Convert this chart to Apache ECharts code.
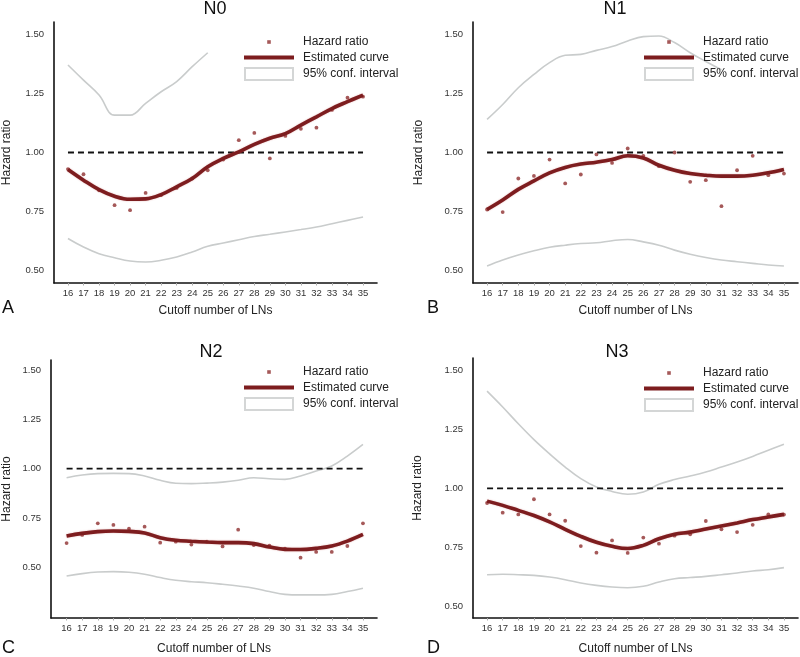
<!DOCTYPE html>
<html>
<head>
<meta charset="utf-8">
<script src="https://cdn.jsdelivr.net/npm/echarts@6/dist/echarts.min.js"></script>
<style>html,body{margin:0;padding:0;background:#fff;}#chart{width:800px;height:657px;}</style>
</head>
<body>
<div id="chart"></div>
<script>
// ---------- data ----------
const cutoffs = [16,17,18,19,20,21,22,23,24,25,26,27,28,29,30,31,32,33,34,35];
const yTicks = [0.50, 0.75, 1.00, 1.25, 1.50];
const refX = [16, 35];
const refY = 1.0;

// N0
const n0Hr    = [0.93,0.908,0.84,0.777,0.756,0.829,0.82,0.85,0.89,0.925,0.97,1.052,1.083,0.975,1.07,1.10,1.105,1.18,1.232,1.236];
const n0Fit   = [0.928,0.883,0.843,0.815,0.802,0.804,0.822,0.855,0.89,0.94,0.975,1.003,1.034,1.06,1.08,1.116,1.151,1.186,1.215,1.243];
const n0Upper = [1.37,1.306,1.243,1.158,1.158,1.208,1.257,1.30,1.363,1.422,null,null,null,null,null,null,null,null,null,null];
const n0Lower = [0.636,0.60,0.572,0.555,0.541,0.537,0.544,0.558,0.579,0.603,0.617,0.631,0.645,0.654,0.664,0.674,0.685,0.699,0.713,0.727];

// N1
const n1Hr    = [0.759,0.748,0.89,0.901,0.97,0.869,0.907,0.992,0.956,1.017,0.986,0.942,1.0,0.876,0.883,0.773,0.925,0.986,0.904,0.911];
const n1Fit   = [0.759,0.799,0.844,0.88,0.914,0.937,0.951,0.959,0.97,0.986,0.977,0.946,0.925,0.911,0.904,0.90,0.90,0.904,0.914,0.928];
const n1Upper = [1.14,1.203,1.274,1.33,1.38,1.411,1.415,1.432,1.448,1.472,1.49,1.493,1.465,1.422,1.385,1.35,null,null,null,null];
const n1Lower = [0.52,0.545,0.566,0.584,0.599,0.608,0.615,0.618,0.627,0.632,0.622,0.608,0.587,0.57,0.556,0.545,0.538,0.531,0.524,0.52];

// N2
const n2Hr    = [0.623,0.664,0.723,0.715,0.696,0.706,0.625,0.63,0.615,0.63,0.606,0.691,0.613,0.61,0.595,0.549,0.578,0.578,0.608,0.723];
const n2Fit   = [0.659,0.672,0.681,0.684,0.682,0.674,0.65,0.637,0.632,0.628,0.625,0.625,0.62,0.603,0.591,0.59,0.596,0.608,0.633,0.667];
const n2Upper = [0.954,0.968,0.975,0.976,0.975,0.963,0.941,0.926,0.924,0.927,0.932,0.941,0.954,0.949,0.946,0.963,0.988,1.014,1.064,1.123];
const n2Lower = [0.456,0.468,0.476,0.478,0.475,0.465,0.448,0.434,0.427,0.422,0.414,0.405,0.394,0.377,0.363,0.36,0.36,0.363,0.377,0.394];

// N3
const n3Hr    = [0.938,0.897,0.89,0.954,0.89,0.863,0.756,0.728,0.78,0.727,0.792,0.766,0.80,0.806,0.862,0.827,0.815,0.846,0.89,0.889];
const n3Fit   = [0.946,0.928,0.907,0.885,0.858,0.827,0.797,0.772,0.755,0.746,0.759,0.787,0.806,0.815,0.828,0.841,0.854,0.868,0.879,0.89];
const n3Upper = [1.411,1.344,1.273,1.206,1.146,1.09,1.041,1.006,0.987,0.975,0.985,1.017,1.037,1.052,1.069,1.09,1.111,1.135,1.161,1.186];
const n3Lower = [0.635,0.637,0.635,0.632,0.625,0.614,0.60,0.59,0.583,0.58,0.586,0.604,0.618,0.623,0.628,0.635,0.642,0.651,0.656,0.665];

const panelTitles = ['N0','N1','N2','N3'];
const panelLetters = ['A','B','C','D'];
const xTitle = 'Cutoff number of LNs';
const yTitle = 'Hazard ratio';
const nameHr = 'Hazard ratio', nameFit = 'Estimated curve', nameCi = '95% conf. interval';

// ---------- layout / style ----------
const FONT = 'Liberation Sans, Arial, Helvetica, sans-serif';
const panels = [
  {hr:n0Hr, fit:n0Fit, up:n0Upper, lo:n0Lower, grid:{left:53, top:22, width:324, height:261}, x:[15.1,35.9], y:[0.448,1.552], yGap:41, xGap:22, title:[215,0], letter:[2,299], legend:[243,35]},
  {hr:n1Hr, fit:n1Fit, up:n1Upper, lo:n1Lower, grid:{left:473, top:22, width:325, height:261}, x:[15.1,35.9], y:[0.448,1.552], yGap:48, xGap:22, title:[615,0], letter:[427,299], legend:[643,35]},
  {hr:n2Hr, fit:n2Fit, up:n2Upper, lo:n2Lower, grid:{left:51, top:360, width:326, height:258}, x:[15.0,35.9], y:[0.243,1.551], yGap:38, xGap:25, title:[211,343], letter:[2,639], legend:[243,365]},
  {hr:n3Hr, fit:n3Fit, up:n3Upper, lo:n3Lower, grid:{left:473, top:358, width:325, height:260}, x:[15.1,35.9], y:[0.452,1.551], yGap:49, xGap:25, title:[617,343], letter:[427,639], legend:[643,366]}
];

const RED = '#7d1d1f';
const PT = '#8e2f2f';
const GREY = '#c9cccc';

function pairs(arr){
  const out = [];
  cutoffs.forEach((x,i)=>{ if (arr[i] !== null && arr[i] !== undefined) out.push([x, arr[i]]); });
  return out;
}

const option = {
  backgroundColor:'#fff',
  animation:false,
  grid:[], xAxis:[], yAxis:[], series:[], title:[], legend:[]
};

panels.forEach((p, k)=>{
  option.grid.push(Object.assign({containLabel:false}, p.grid));
  option.xAxis.push({
    type:'value', gridIndex:k, min:p.x[0], max:p.x[1],
    name:xTitle, nameLocation:'middle', nameGap:p.xGap,
    nameTextStyle:{fontFamily:FONT, fontSize:12, color:'#222'},
    axisLine:{show:true, onZero:false, lineStyle:{color:'#111', width:1.6}},
    axisTick:{show:true, length:2.5, customValues:cutoffs, lineStyle:{color:'#aaa', width:1}},
    axisLabel:{customValues:cutoffs, fontFamily:FONT, fontSize:9.5, color:'#333', margin:5},
    splitLine:{show:false}
  });
  option.yAxis.push({
    type:'value', gridIndex:k, min:p.y[0], max:p.y[1],
    name:yTitle, nameLocation:'middle', nameGap:p.yGap,
    nameTextStyle:{fontFamily:FONT, fontSize:12, color:'#222'},
    axisLine:{show:true, onZero:false, lineStyle:{color:'#111', width:1.6}},
    axisTick:{show:false},
    axisLabel:{customValues:yTicks, fontFamily:FONT, fontSize:9.5, color:'#333', margin:10, formatter:(v)=>v.toFixed(2)},
    splitLine:{show:false}
  });
  // confidence interval
  [p.up, p.lo].forEach(arr=>{
    option.series.push({
      type:'line', name:nameCi, xAxisIndex:k, yAxisIndex:k, data:pairs(arr),
      smooth:0.4, showSymbol:false, symbol:'none',
      lineStyle:{color:GREY, width:1.6}, itemStyle:{color:GREY}, z:2, silent:true
    });
  });
  // reference line at HR = 1
  option.series.push({
    type:'line', name:'ref', xAxisIndex:k, yAxisIndex:k, data:refX.map(x=>[x, refY]),
    showSymbol:false, symbol:'none',
    lineStyle:{color:'#111', width:1.8, type:[6,4]}, z:3, silent:true
  });
  // hazard ratio points
  option.series.push({
    type:'scatter', name:nameHr, xAxisIndex:k, yAxisIndex:k, data:pairs(p.hr),
    symbol:'circle', symbolSize:3.8, itemStyle:{color:PT}, z:4, silent:true
  });
  // estimated curve
  option.series.push({
    type:'line', name:nameFit, xAxisIndex:k, yAxisIndex:k, data:pairs(p.fit),
    smooth:0.4, showSymbol:false, symbol:'none',
    lineStyle:{color:RED, width:3.6, shadowColor:'rgba(180,60,60,0.45)', shadowBlur:1.5},
    itemStyle:{color:RED}, z:5, silent:true
  });
  option.title.push({
    text:panelTitles[k], left:p.title[0], top:p.title[1], textAlign:'center', padding:0,
    textStyle:{fontFamily:FONT, fontSize:18, fontWeight:'normal', color:'#111'}
  });
  option.title.push({
    text:panelLetters[k], left:p.letter[0], top:p.letter[1], padding:0,
    textStyle:{fontFamily:FONT, fontSize:18, fontWeight:'normal', color:'#111'}
  });
  option.legend.push({
    left:p.legend[0], top:p.legend[1], orient:'vertical',
    itemWidth:54, itemHeight:14, itemGap:1.5, padding:0,
    selectedMode:false, z:10,
    textStyle:{fontFamily:FONT, fontSize:12, color:'#222'},
    data:[
      {name:nameHr, icon:'path://M0,0M54,14M23.2,5.2L26.8,5.2L26.8,8.8L23.2,8.8Z', itemStyle:{color:PT, borderWidth:0}},
      {name:nameFit, icon:'path://M0,0M54,14M0,5L50,5L50,9L0,9Z', itemStyle:{color:RED, borderWidth:0}},
      {name:nameCi, icon:'path://M0,0M54,14M1,1L49,1L49,13L1,13Z', itemStyle:{color:'#fff', borderColor:'#d4d6d6', borderWidth:2}}
    ]
  });
});

const chart = echarts.init(document.getElementById('chart'), null, {renderer:'canvas'});
chart.setOption(option);
</script>
</body>
</html>
